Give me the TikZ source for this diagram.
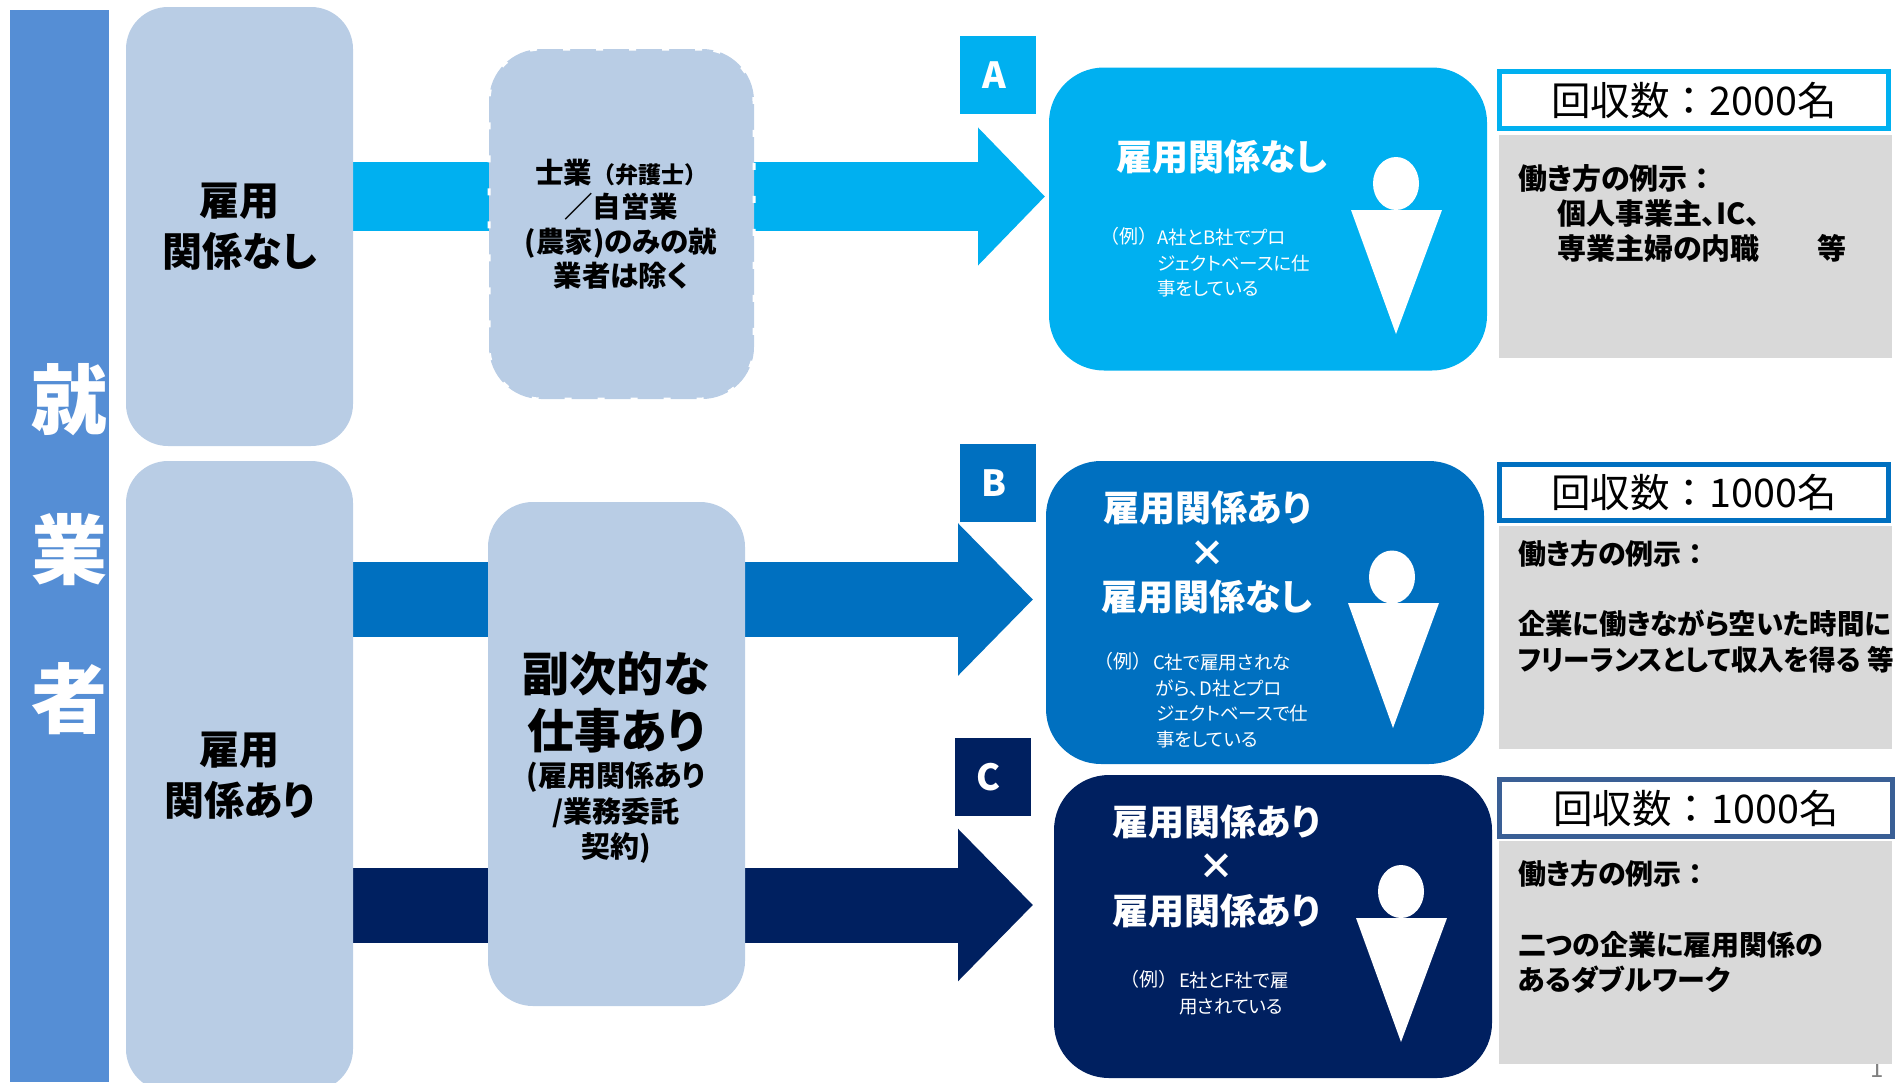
\documentclass[tikz,border=0pt]{standalone}
\usepackage{fontspec}
\setmainfont{Noto Sans CJK JP}[RawFeature=+palt]
\newfontfamily\wide{Noto Sans CJK JP}
\usetikzlibrary{arrows.meta,backgrounds,shapes.geometric}
\definecolor{barblue}{HTML}{558ED5}
\definecolor{paleblue}{HTML}{B9CDE5}
\definecolor{colA}{HTML}{00B0F0}
\definecolor{colB}{HTML}{0070C0}
\definecolor{colC}{HTML}{002060}
\definecolor{colCline}{HTML}{3A5F95}
\definecolor{greybox}{HTML}{D9D9D9}
\tikzset{
  paper/.style={inner sep=0pt,outer sep=0pt},
  palebox/.style={paper,fill=paleblue,align=center,font=\bfseries\fontsize{40}{51}\selectfont},
  card/.style={paper,fill=#1,rounded corners=55pt,minimum width=438pt,minimum height=303pt},
  tag/.style={paper,fill=#1,text=white,font=\bfseries\fontsize{36}{40}\selectfont},
  countbox/.style={paper,draw=#1,line width=5pt,fill=white,font=\wide\fontsize{39.5}{45}\selectfont},
  greyrect/.style={paper,fill=greybox,minimum width=393pt,minimum height=223pt},
  greytext/.style={paper,anchor=west,align=left,font=\bfseries\fontsize{28}{35.4}\selectfont},
  title/.style={paper,text=white,align=center,font=\bfseries\fontsize{36}{44.5}\selectfont},
  small/.style={paper,text=white,anchor=west,align=left,font=\fontsize{18.5}{25.6}\selectfont},
  barword/.style={paper,text=white,font=\bfseries\fontsize{76}{76}\selectfont},
  flow/.style={draw=#1,line width=75pt,-{Triangle[length=75pt,width=148pt]}},
  head/.style={paper,ellipse,fill=white,minimum width=46pt,minimum height=53pt},
  body/.style={fill=white},
}
\begin{document}
\begin{tikzpicture}[x=1pt,y=-1pt]
  \path[use as bounding box,clip] (0,0) rectangle (1898,1082);
  % left bar
  \node[paper,fill=barblue,minimum width=99pt,minimum height=1072pt] (bar) at (59.5,546) {};
  \node[barword] (shu) at (69,400) {就};
  \node[barword] (gyo) at (69,550) {業};
  \node[barword] (sha) at (69,699) {者};
  % first column
  \node[palebox,rounded corners=42pt,minimum width=227pt,minimum height=439pt] (nashi) at (239.5,226.5) {雇用\\関係なし};
  \node[palebox,rounded corners=42pt,minimum width=227pt,minimum height=630pt] (ari) at (239.5,776) {雇用\\関係あり};
  % second column
  \node[palebox,draw=white,line width=3pt,dash pattern=on 7pt off 26pt,rounded corners=52pt,minimum width=265pt,minimum height=350pt] (shigyo) at (621.5,224) {};
  \node[paper,align=center,font=\bfseries\fontsize{28.5}{34.5}\selectfont] (shigyotext) at (621,224) {士業{\wide\fontsize{23}{34.5}\selectfont（弁護士）}\\／自営業\\(農家)のみの就\\業者は除く};
  \node[palebox,rounded corners=45pt,minimum width=257pt,minimum height=504pt] (fuku) at (616.5,754) {};
  \node[paper,align=center,font=\bfseries\fontsize{47}{57}\selectfont] (fukutext) at (616,702) {副次的な\\仕事あり};
  \node[paper,align=center,font=\bfseries\fontsize{29}{35.5}\selectfont] (fukusub) at (616,813) {(雇用関係あり\\/業務委託\\契約)};
  % arrows
  \coordinate (tipA) at (1045,196.5);
  \coordinate (tipB) at (1033,599.5);
  \coordinate (tipC) at (1033,905);
  \begin{scope}[on background layer]
    \draw[draw=colA,line width=69pt,-{Triangle[length=67pt,width=134pt]}] (nashi.east |- tipA) -- (tipA);
    \draw[flow=colB] (ari.east |- tipB) -- (tipB);
    \draw[flow=colC] (ari.east |- tipC) -- (tipC);
  \end{scope}
  % tags
  \node[tag=colA,minimum width=76pt,minimum height=78pt] (tagA) at (998,75) {A\rule{8pt}{0pt}};
  \node[tag=colB,minimum width=76pt,minimum height=78pt] (tagB) at (998,483) {B\rule{8pt}{0pt}};
  \node[tag=colC,minimum width=76pt,minimum height=78pt] (tagC) at (993,777) {C\rule{10pt}{0pt}};
  % cards
  \node[card=colA] (cardA) at (1268,219) {};
  \node[card=colB] (cardB) at (1265,612.5) {};
  \node[card=colC] (cardC) at (1273,926.5) {};
  \node[title] (titleA) at (1222,157) {雇用関係なし};
  \node[title] (titleB) at (1207,552.5) {雇用関係あり\\×\\雇用関係なし};
  \node[title] (titleC) at (1216,866) {雇用関係あり\\×\\雇用関係あり};
  \node[small,font=\wide\fontsize{19}{25}\selectfont] (reiA) at (1100,236) {（例）};
  \node[small,anchor=north west] (smallA) at (1157,229) {A社とB社でプロ\\ジェクトベースに仕\\事をしている};
  \node[small,font=\wide\fontsize{19}{25}\selectfont] (reiB) at (1094,661) {（例）};
  \node[small,anchor=north west] (smallB) at (1153,654) {C社で雇用されな\\\hspace*{3pt}がら、D社とプロ\\\hspace*{3pt}ジェクトベースで仕\\\hspace*{3pt}事をしている};
  \node[small,font=\wide\fontsize{19}{25}\selectfont] (reiC) at (1120,979) {（例）};
  \node[small,anchor=north west] (smallC) at (1179,972) {E社とF社で雇\\用されている};
  % persons
  \node[head] (headA) at (1396,183.5) {};
  \fill[body] (1351,210) -- (1442,210) -- (1396,334) -- cycle;
  \node[head] (headB) at (1392,577) {};
  \fill[body] (1348,603) -- (1439,603) -- (1393,728) -- cycle;
  \node[head] (headC) at (1401,891.5) {};
  \fill[body] (1356,918) -- (1447,918) -- (1401,1042) -- cycle;
  % page number
  \node[paper,text=gray,font=\fontsize{24}{24}\selectfont] (pagenum) at (1877,1069) {1};
  % right column
  \node[countbox=colA,minimum width=389pt,minimum height=57pt] (countA) at (1694,100) {\raisebox{-3pt}{回収数：2000名}};
  \node[countbox=colB,minimum width=389pt,minimum height=56pt] (countB) at (1694,492.5) {回収数：1000名};
  \node[countbox=colCline,minimum width=393pt,minimum height=57pt] (countC) at (1696,808) {\raisebox{-2pt}{回収数：1000名}};
  \node[greyrect] (greyA) at (1695.5,246.5) {};
  \node[greyrect] (greyB) at (1695.5,637.5) {};
  \node[greyrect] (greyC) at (1695.5,952.5) {};
  \node[greytext,font=\bfseries\fontsize{29}{35.4}\selectfont] (exA) at (1518,213.5) {働き方の例示{\wide：}\\\hspace*{39pt}個人事業主、IC、\\\hspace*{39pt}専業主婦の内職\hspace{58pt}等};
  \node[greytext] (exB) at (1518,606.5) {働き方の例示{\wide：}\\\mbox{}\\\scalebox{0.98}[1]{企業に働きながら空いた時間に}\\\scalebox{0.95}[1]{フリーランスとして収入を得る\hspace{7pt}等}};
  \node[greytext] (exC) at (1518,927) {働き方の例示{\wide：}\\\mbox{}\\二つの企業に雇用関係の\\あるダブルワーク};
\end{tikzpicture}
\end{document}
